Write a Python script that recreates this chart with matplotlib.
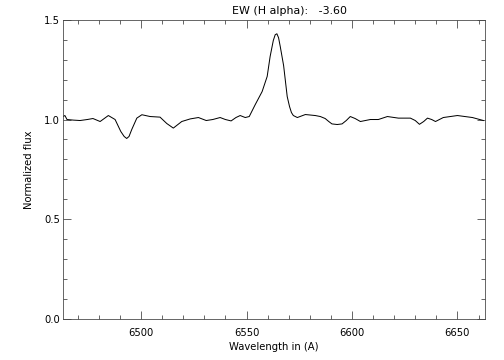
import matplotlib
matplotlib.use("Agg")
import matplotlib.pyplot as plt
from matplotlib.ticker import MultipleLocator

# Spectrum around H alpha
wavelength = [6463.0, 6463.9, 6464.9, 6468.0, 6471.1, 6474.5, 6477.2, 6480.6,
              6484.5, 6487.7, 6490.4, 6492.0, 6493.2, 6494.3, 6495.6, 6498.0,
              6500.4, 6504.3, 6509.0, 6512.2, 6515.3, 6519.3, 6523.3, 6527.2,
              6530.9, 6534.0, 6537.5, 6540.0, 6542.7, 6545.0, 6547.0, 6549.4,
              6551.3, 6554.1, 6557.4, 6559.8, 6561.2, 6562.7, 6563.6, 6564.4,
              6565.2, 6566.0, 6567.6, 6569.3, 6570.4, 6571.3, 6572.2, 6574.1,
              6577.9, 6582.6, 6585.0, 6587.3, 6589.0, 6590.5, 6593.0, 6595.3,
              6597.3, 6599.2, 6601.5, 6604.0, 6608.7, 6612.5, 6616.8, 6622.0,
              6627.7, 6630.0, 6632.0, 6634.0, 6635.8, 6637.8, 6639.6, 6643.3,
              6650.0, 6657.1, 6662.3]
flux = [1.015, 1.02, 1.00, 0.997, 0.995, 1.0, 1.005, 0.99,
        1.02, 1.00, 0.94, 0.915, 0.905, 0.915, 0.95, 1.007,
        1.024, 1.015, 1.012, 0.98, 0.957, 0.99, 1.003, 1.01,
        0.995, 1.0, 1.01, 1.0, 0.993, 1.01, 1.02, 1.01,
        1.015, 1.074, 1.14, 1.216, 1.316, 1.396, 1.425, 1.43,
        1.41, 1.366, 1.27, 1.115, 1.065, 1.035, 1.02, 1.01,
        1.025, 1.02, 1.015, 1.005, 0.99, 0.978, 0.975, 0.978,
        0.995, 1.015, 1.005, 0.99, 1.00, 1.00, 1.015, 1.007,
        1.007, 0.995, 0.976, 0.99, 1.007, 1.0, 0.99, 1.01,
        1.02, 1.01, 0.995]

ew_halpha = -3.60
x_range = (6463, 6663)
y_range = (0.0, 1.5)

plt.rcParams['font.size'] = 10

fig = plt.figure(figsize=(7, 5), dpi=72)
ax = fig.add_axes([0.125, 0.114, 0.837, 0.831])

ax.plot(wavelength, flux, color='black', linewidth=1.0)

ax.set_xlim(*x_range)
ax.set_ylim(*y_range)
ax.xaxis.set_major_locator(MultipleLocator(50))
ax.xaxis.set_minor_locator(MultipleLocator(10))
ax.yaxis.set_major_locator(MultipleLocator(0.5))
ax.yaxis.set_minor_locator(MultipleLocator(0.1))
ax.yaxis.set_major_formatter(plt.FormatStrFormatter('%.1f'))
ax.tick_params(which='both', direction='in', top=True, right=True,
               color='#444444', width=0.8)
ax.tick_params(which='major', length=8)
ax.tick_params(which='minor', length=4)
ax.tick_params(axis='x', which='major', pad=9)
ax.tick_params(axis='y', which='major', pad=3)
for spine in ax.spines.values():
    spine.set_color('#444444')
    spine.set_linewidth(0.8)

ax.set_xlabel('Wavelength in (A)', labelpad=4)
ax.set_ylabel('Normalized flux', labelpad=10)
fig.text(290 / 504, 1 - 11 / 360, 'EW (H alpha):   %.2f' % ew_halpha,
         ha='center', va='center', fontsize=11)

fig.savefig('out.png', dpi=72)
